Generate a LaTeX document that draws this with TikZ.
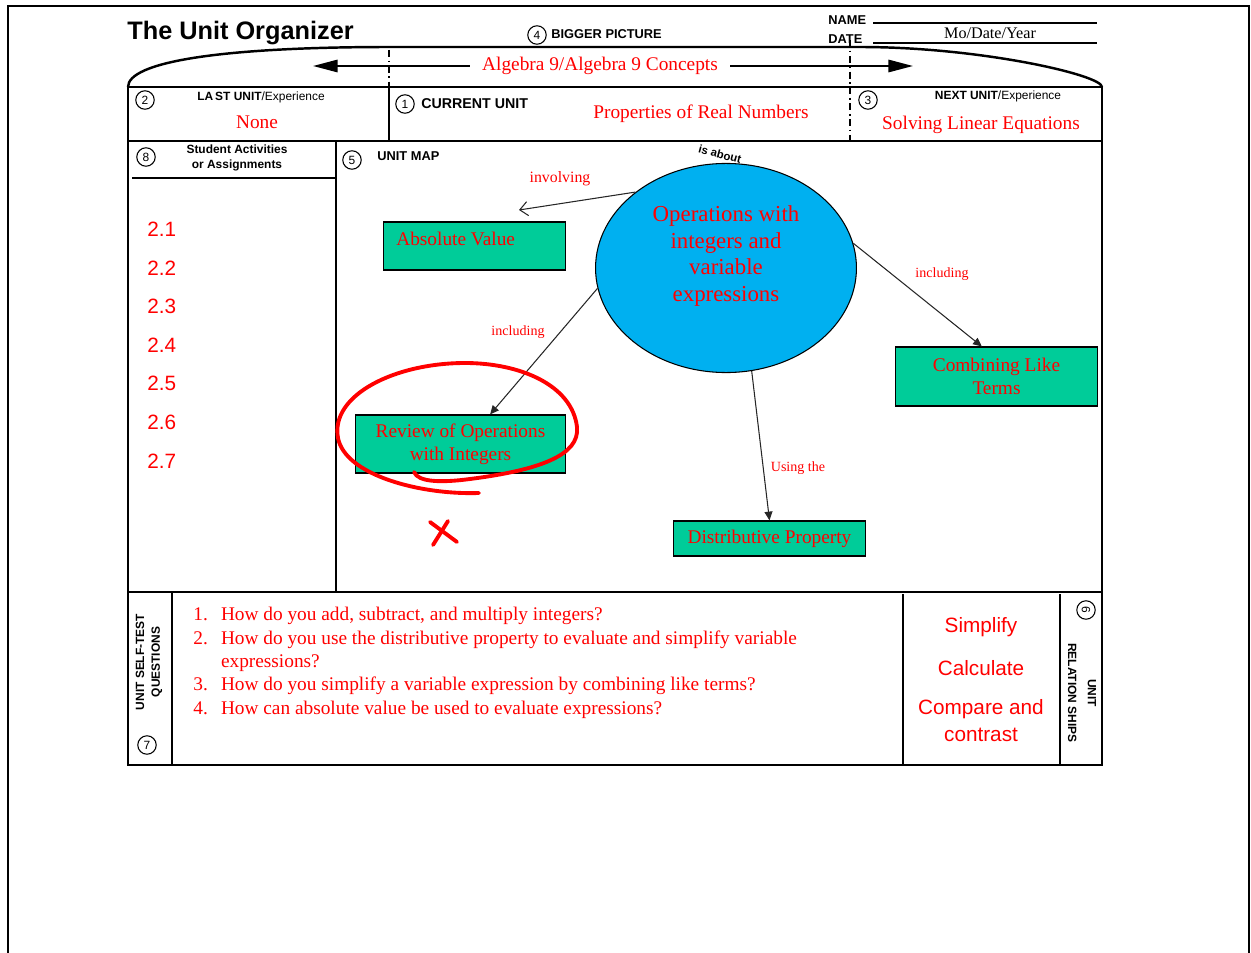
\documentclass[tikz,border=0pt]{standalone}
\usepackage{fontspec}
\setmainfont{Liberation Serif}
\setsansfont{Liberation Sans}
\usetikzlibrary{arrows.meta,shapes.geometric}
\definecolor{mapgreen}{HTML}{00CC99}
\definecolor{mapblue}{HTML}{00B0F0}
\newcommand{\fsz}[2]{\fontsize{#1}{#2}\selectfont}

\begin{document}
\begin{tikzpicture}[x=0.02cm, y=-0.02cm,
  numc/.style={circle, draw, line width=0.6pt, inner sep=0pt, minimum size=10.5pt,
               font=\sffamily\fsz{6.8}{7}},
  hdr/.style={inner sep=0pt, font=\sffamily\bfseries\fsz{7.3}{8.5}},
  subhdr/.style={inner sep=0pt, align=center, font=\sffamily\bfseries\fsz{6.8}{9}},
  redtxt/.style={inner sep=0pt, text=red, font=\fsz{11}{13}},
  redsans/.style={inner sep=0pt, text=red, align=center, font=\sffamily\fsz{11.8}{15.3}},
  mapbox/.style={draw, fill=mapgreen, line width=0.8pt, inner sep=0pt, text=red,
                 align=center, font=\fsz{11}{13}},
  linklbl/.style={inner sep=0pt, text=red, font=\fsz{8}{9}},
  link/.style={line width=0.6pt, draw=black!85, -{Triangle[length=5pt,width=4.5pt]}},
  bigarrow/.style={line width=1.2pt, -{Triangle[length=14pt,width=7pt]}},
  tableline/.style={line width=1.4pt},
  thinline/.style={line width=0.7pt},
  dashline/.style={line width=0.6pt, dash pattern=on 4pt off 2pt on 1pt off 2pt},
  redmark/.style={red, line width=2.2pt, line cap=round, line join=round}]
  \useasboundingbox (0,0) rectangle (1251,953);
  \draw[line width=1.3pt] (8,953) -- (8,6) -- (1249,6) -- (1249,953);

  \node[anchor=base west, inner sep=0pt, font=\sffamily\bfseries\fsz{14.4}{16}] (title) at (127,40) {The Unit Organizer};
  \node[numc] (c4) at (537,35) {4};
  \node[hdr, anchor=base west] (bigger) at (551,39) {BIGGER PICTURE};
  \node[hdr, anchor=base west] (name) at (828,25) {NAME};
  \node[hdr, anchor=base west] (date) at (828,44) {DATE};
  \node[inner sep=0pt, anchor=base, font=\fsz{9.2}{10}] (when) at (990,39) {Mo/Date/Year};
  \draw[thinline] (873,23) -- (1097,23);
  \draw[thinline] (873,43) -- (1097,43);

  \draw[tableline] (128,87) .. controls (128,62) and (220,47) .. (390,47) -- (860,47)
                   .. controls (980,47) and (1102,75) .. (1102,87);
  \draw[tableline] (128,87) rectangle (1102,765);
  \draw[tableline] (128,141) -- (1102,141);
  \draw[tableline] (128,592) -- (1102,592);
  \draw[thinline]  (389,87) -- (389,141);
  \draw[dashline]  (389,50) -- (389,87);
  \draw[dashline]  (850,40) -- (850,141);
  \draw[tableline] (336,141) -- (336,592);
  \draw[thinline]  (132,178) -- (336,178);
  \draw[thinline]  (172,592) -- (172,765);
  \draw[tableline] (903,594) -- (903,765);
  \draw[thinline]  (1060,594) -- (1060,765);

  \node[redtxt, inner xsep=7pt] (bigpic) at (600,66) {Algebra 9/Algebra 9 Concepts};
  \coordinate (lastarr) at (313,66);
  \coordinate (nextarr) at (913,66);
  \draw[bigarrow] (bigpic.west) -- (lastarr);
  \draw[bigarrow] (bigpic.east) -- (nextarr);

  \node[numc] (c2) at (145,100) {2};
  \node[subhdr, anchor=base] (lastunit) at (261,101) {LA\,ST UNIT{\mdseries/Experience}};
  \node[redtxt, anchor=base] (none) at (257,129) {None};
  \node[numc] (c1) at (405,104) {1};
  \node[inner sep=0pt, anchor=base west, font=\sffamily\bfseries\fsz{8.1}{9}] (curunit) at (421,109) {CURRENT UNIT};
  \node[redtxt, anchor=base] (current) at (701,119) {Properties of Real Numbers};
  \node[numc] (c3) at (868,100) {3};
  \node[subhdr, anchor=base] (nextunit) at (998,100) {NEXT UNIT{\mdseries/Experience}};
  \node[redtxt, anchor=base] (next) at (981,130) {Solving Linear Equations};

  \node[numc] (c8) at (146,157) {8};
  \node[subhdr] (activ) at (237,158) {Student Activities\\or Assignments};
  \node[redsans, anchor=west] (act1) at (147,229) {2.1};
  \node[redsans, anchor=west] (act2) at (147,268) {2.2};
  \node[redsans, anchor=west] (act3) at (147,306) {2.3};
  \node[redsans, anchor=west] (act4) at (147,345) {2.4};
  \node[redsans, anchor=west] (act5) at (147,383) {2.5};
  \node[redsans, anchor=west] (act6) at (147,422) {2.6};
  \node[redsans, anchor=west] (act7) at (147,461) {2.7};

  \node[numc] (c5) at (352,160) {5};
  \node[hdr, anchor=base west] (unitmap) at (377,160) {UNIT MAP};
  \node[inner sep=0pt, rotate=-15, font=\sffamily\bfseries\fsz{6.5}{7}] (isabout) at (720,154) {is about};

  \node[draw, ellipse, fill=mapblue, line width=0.6pt, inner sep=0pt,
        minimum width=148.5pt, minimum height=119pt] (oper) at (726,268) {};
  \node[inner sep=0pt, text=red, align=center, font=\fsz{13}{15.3}] (opertxt) at (726,256)
       {Operations with\\integers and\\variable\\expressions};

  \node[mapbox, minimum width=103.7pt, minimum height=27.2pt] (absval) at (474.5,246) {};
  \node[redtxt, anchor=west] (absvaltxt) at (396,239) {Absolute Value};
  \node[mapbox, minimum width=119.6pt, minimum height=32.9pt] (review) at (460.5,444) {Review of Operations\\with Integers};
  \node[mapbox, minimum width=115.1pt, minimum height=33.4pt] (combine) at (996.5,376.5) {Combining Like\\Terms};
  \node[mapbox, minimum width=109.4pt, minimum height=19.8pt] (distprop) at (769.5,538.5) {Distributive Property};

  \coordinate (absarr) at (519,210);
  \draw[link, -{Straight Barb[length=4.5pt,width=8pt]}] (oper.140) -- (absarr);
  \draw[link] (oper.189) -- (review.45);
  \draw[link] (oper.11) -- (combine.116);
  \draw[link] (oper.-76) -- (distprop.north);
  \node[linklbl, font=\fsz{9}{10}] (involving) at (560,179) {involving};
  \node[linklbl] (incleft) at (518,332) {including};
  \node[linklbl] (incright) at (942,274) {including};
  \node[linklbl] (using) at (798,468) {Using the};

  \draw[redmark] (414,472) .. controls (418,482) and (440,483) .. (470,479)
                 .. controls (540,470) and (580,455) .. (577,427)
                 .. controls (572,385) and (520,363) .. (465,363)
                 .. controls (395,363) and (330,395) .. (338,438)
                 .. controls (345,475) and (420,495) .. (479,493);
  \draw[redmark] (430,522) -- (457,542);
  \draw[redmark] (448,521) -- (433,545);

  \node[subhdr, rotate=90] (selftest) at (149,662) {UNIT SELF-TEST\\QUESTIONS};
  \node[numc] (c7) at (147,745) {7};
  \node[inner sep=0pt, anchor=north west, text=red, font=\fsz{11}{13.3}] (quest) at (193,604)
       {\begin{tabular}{@{}l@{\hspace{7.5pt}}l@{}}
        1. & How do you add, subtract, and multiply integers?\\
        2. & How do you use the distributive property to evaluate and simplify variable\\
           & expressions?\\
        3. & How do you simplify a variable expression by combining like terms?\\
        4. & How can absolute value be used to evaluate expressions?
        \end{tabular}};

  \node[redsans] (simplify) at (981,627) {Simplify};
  \node[redsans] (calc) at (981,668) {Calculate};
  \node[redsans] (compare) at (981,721) {Compare and\\contrast};
  \node[numc, rotate=-90] (c6) at (1086,610) {6};
  \node[subhdr, rotate=-90, font=\sffamily\bfseries\fsz{6.8}{11.3}] (relation) at (1082,693) {UNIT\\RELATION SHIPS};
\end{tikzpicture}
\end{document}
